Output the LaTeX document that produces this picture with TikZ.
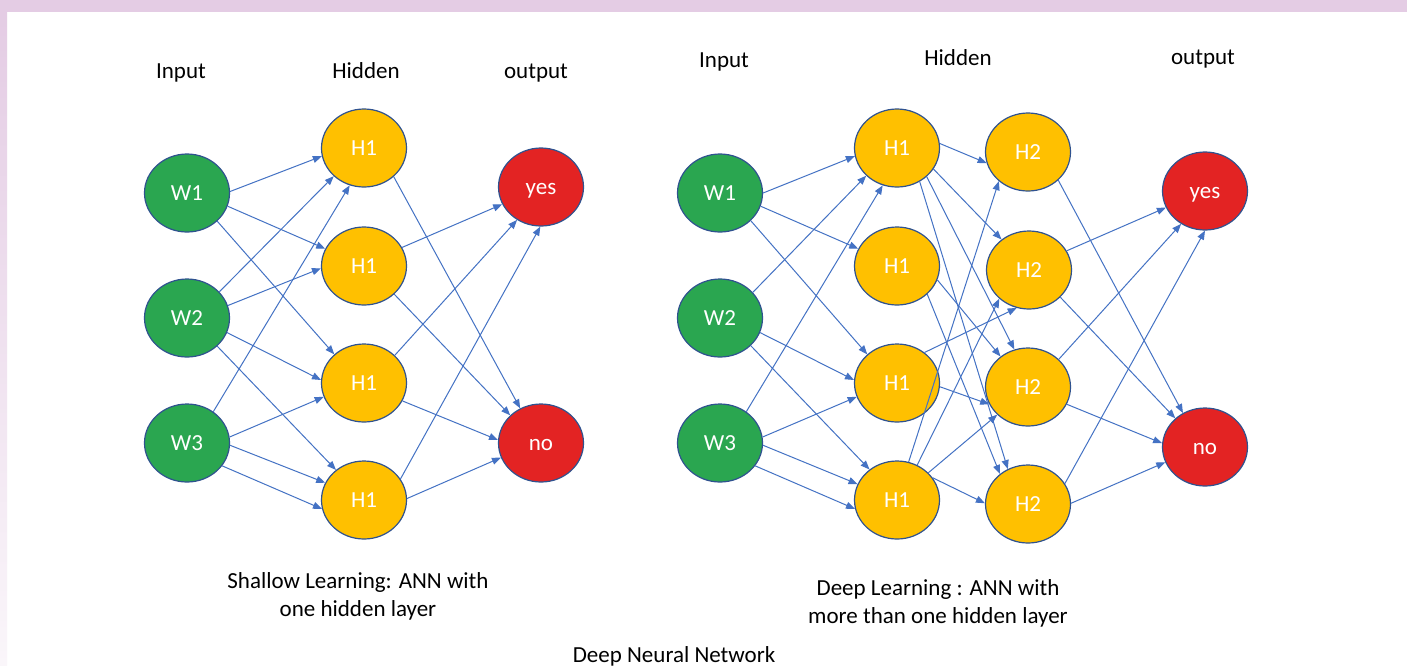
\documentclass[tikz,border=0pt]{standalone}
\usepackage{fontspec}
\setmainfont{Carlito}
\usetikzlibrary{shapes.geometric,arrows.meta}
\definecolor{ngreen}{RGB}{42,166,80}
\definecolor{nyellow}{RGB}{255,192,0}
\definecolor{nred}{RGB}{227,35,35}
\definecolor{nborder}{RGB}{47,82,143}
\definecolor{edgeblue}{RGB}{68,114,196}
\definecolor{framecol}{RGB}{228,204,228}
\definecolor{framelow}{RGB}{250,246,250}
\begin{document}
\begin{tikzpicture}[x=0.5pt,y=-0.5pt,
 neuron/.style={ellipse,draw=nborder,line width=0.6pt,minimum width=42.5pt,minimum height=39pt,inner sep=0pt,text=white,text height=7.4pt,text depth=0pt,font=\fontsize{11.5}{13}\selectfont},
 inp/.style={neuron,fill=ngreen},
 hid/.style={neuron,fill=nyellow},
 outp/.style={neuron,fill=nred},
 conn/.style={draw=edgeblue,line width=0.5pt,-{Triangle[length=4.5pt,width=3.5pt]}},
 lbl/.style={font=\fontsize{11.5}{14}\selectfont,anchor=base,inner sep=0pt,align=center}]
\useasboundingbox (0,0) rectangle (1407,665);
\fill[white] (0,0) rectangle (1407,665);
\fill[framecol] (0,0) rectangle (1407,12);
\shade[top color=framecol,bottom color=framelow] (0,12) rectangle (7,665);

% ---------- left network ----------
\node[lbl] (tin1) at (181,78) {Input};
\node[lbl] (thid1) at (366,78) {Hidden};
\node[lbl] (tout1) at (536,78) {output};

\node[inp] (w1) at (187,193) {W1};
\node[inp] (w2) at (187,318) {W2};
\node[inp] (w3) at (187,443) {W3};
\node[hid] (a1) at (364,148) {H1};
\node[hid] (a2) at (364,266) {H1};
\node[hid] (a3) at (364,383) {H1};
\node[hid] (a4) at (364,500) {H1};
\node[outp] (y1) at (541,187) {yes};
\node[outp] (n1) at (541,443) {no};

\draw[conn] (w1.2) -- (a1.191);
\draw[conn] (w1.342) -- (a2.156);
\draw[conn] (w1.317) -- (a3.136);
\draw[conn] (w2.39) -- (a1.223);
\draw[conn] (w2.17) -- (a2.183);
\draw[conn] (w2.340) -- (a3.176);
\draw[conn] (w2.317) -- (a4.133);
\draw[conn] (w3.50) -- (a1.249);
\draw[conn] (w3.8) -- (a3.199);
\draw[conn] (w3.357) -- (a4.156);
\draw[conn] (w3.327) -- (a4.192);
\draw[conn] (a1.316) -- (n1.121);
\draw[conn] (a2.26) -- (y1.204);
\draw[conn] (a2.317) -- (n1.138);
\draw[conn] (a3.42) -- (y1.234);
\draw[conn] (a3.335) -- (n1.176);
\draw[conn] (a4.30) -- (y1.269);
\draw[conn] (a4.2) -- (n1.200);

\node[lbl] (cap1) at (358,616) {Shallow Learning: ANN with\\one hidden layer};

% ---------- right network ----------
\node[lbl] (tin2) at (724,67) {Input};
\node[lbl] (thid2) at (958,65) {Hidden};
\node[lbl] (tout2) at (1203,64) {output};

\node[inp] (v1) at (720,193) {W1};
\node[inp] (v2) at (720,318) {W2};
\node[inp] (v3) at (720,443) {W3};
\node[hid] (b1) at (897,148) {H1};
\node[hid] (b2) at (897,266) {H1};
\node[hid] (b3) at (897,383) {H1};
\node[hid] (b4) at (897,500) {H1};
\node[hid] (c1) at (1028,152) {H2};
\node[hid] (c2) at (1029,270) {H2};
\node[hid] (c3) at (1028,387) {H2};
\node[hid] (c4) at (1028,504) {H2};
\node[outp] (y2) at (1205,191) {yes};
\node[outp] (n2) at (1205,447) {no};

\draw[conn] (v1.0) -- (b1.191);
\draw[conn] (v1.342) -- (b2.156);
\draw[conn] (v1.318) -- (b3.136);
\draw[conn] (v2.38) -- (b1.222);
\draw[conn] (v2.340) -- (b3.176);
\draw[conn] (v2.318) -- (b4.132);
\draw[conn] (v3.50) -- (b1.249);
\draw[conn] (v3.8) -- (b3.199);
\draw[conn] (v3.357) -- (b4.158);
\draw[conn] (v3.327) -- (b4.192);

\draw[conn] (b1.6) -- (c1.195);
\draw[conn] (b1.330) -- (c2.132);
\draw[conn] (b1.316) -- (c3.110);
\draw[conn] (b1.304) -- (c4.120);
\draw[conn] (b2.341) -- (c3.132);
\draw[conn] (b2.317) -- (c4.133);
\draw[conn] (b3.48) -- (c2.252);
\draw[conn] (b3.355) -- (c3.204);
\draw[conn] (b4.73) -- (c1.225);
\draw[conn] (b4.60) -- (c2.224);
\draw[conn] (b4.41) -- (c3.222);
\draw[conn] (b4.32) -- (c4.179);

\draw[conn] (c1.317) -- (n2.123);
\draw[conn] (c2.27) -- (y2.203);
\draw[conn] (c2.319) -- (n2.136);
\draw[conn] (c3.42) -- (y2.234);
\draw[conn] (c3.336) -- (n2.175);
\draw[conn] (c4.29) -- (y2.270);
\draw[conn] (c4.1) -- (n2.201);

\node[lbl] (cap2) at (938,623) {Deep Learning : ANN with\\more than one hidden layer};

\node[lbl] (title) at (674,662) {Deep Neural Network};
\end{tikzpicture}
\end{document}
